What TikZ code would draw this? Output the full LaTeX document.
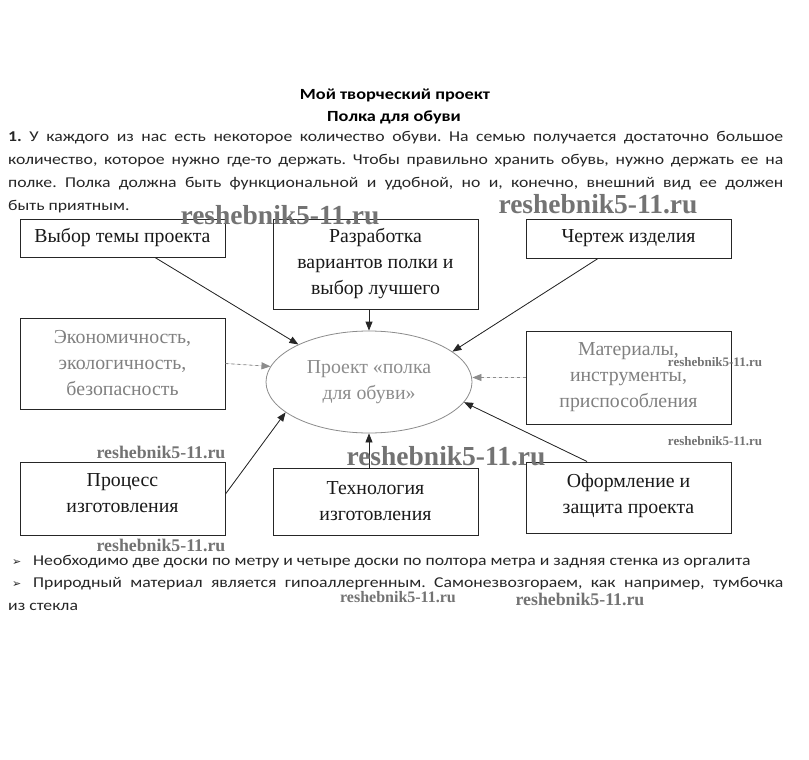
\documentclass[tikz,border=0pt]{standalone}
\usepackage{fontspec}
\setmainfont[FakeStretch=1.18]{Carlito}
\newfontfamily\serif{Liberation Serif}
\newfontfamily\dejavu{DejaVu Sans}
\usetikzlibrary{arrows.meta,shapes.geometric}
\frenchspacing
\begin{document}
\begin{tikzpicture}[x=1pt,y=-1pt,
  box/.style={draw=black!85, line width=1pt, minimum width=205pt, inner sep=0pt,
    align=center, font=\serif\fontsize{19.8}{26}\selectfont, text=black!90},
  faded/.style={text=black!50},
  arr/.style={-{Triangle[length=9pt,width=7pt]}, line width=0.8pt, draw=black!85, fill=black!85},
  farr/.style={arr, dashed, draw=black!45, fill=black!55},
  wmL/.style={font=\serif\bfseries\fontsize{27.5}{27.5}\selectfont, text=black!55, inner sep=0pt},
  wmM/.style={font=\serif\bfseries\fontsize{17.8}{17.8}\selectfont, text=black!55, inner sep=0pt},
  wmS/.style={font=\serif\bfseries\fontsize{13}{13}\selectfont, text=black!55, inner sep=0pt},
  para/.style={anchor=north west, inner sep=0pt, text width=775pt, align=justify,
    font=\fontsize{15}{23}\selectfont, text=black!85},
  bline/.style={anchor=base west, inner sep=0pt, font=\fontsize{15}{23}\selectfont, text=black!85},
  title/.style={font=\bfseries\fontsize{15.5}{15.5}\selectfont, text=black, inner sep=0pt}
]
\useasboundingbox (0,0) rectangle (809,760);
\fill[white] (0,0) rectangle (809,760);

% titles
\node[title] (t1) at (395,95) {Мой творческий проект};
\node[title] (t2) at (394,117) {Полка для обуви};

% intro paragraph
\node[para] (p1) at (8,125) {\strut\textbf{1.} У каждого из нас есть некоторое количество обуви. На семью получается достаточно большое\linebreak
количество, которое нужно где-то держать. Чтобы правильно хранить обувь, нужно держать ее на\linebreak
полке. Полка должна быть функциональной и удобной, но и, конечно, внешний вид ее должен\linebreak
быть приятным.};

% boxes
\node[box, minimum height=38pt] (b1) at (122.5,238) {Выбор темы проекта};
\node[box, minimum height=90pt] (b2) at (375.5,264) {Разработка\\вариантов полки и\\выбор лучшего};
\node[box, minimum height=39pt] (b3) at (628.5,238.5) {Чертеж изделия};
\node[box, minimum height=91pt, faded] (b4) at (122.5,363.5) {Экономичность,\\экологичность,\\безопасность};
\node[box, minimum height=93pt, faded] (b5) at (628.5,377.5) {Материалы,\\инструменты,\\приспособления};
\node[box, minimum height=73pt, text depth=10pt] (b6) at (122.5,498.5) {Процесс\\изготовления};
\node[box, minimum height=67pt] (b7) at (375.5,501.5) {Технология\\изготовления};
\node[box, minimum height=71pt, text depth=8pt] (b8) at (628.5,497.5) {Оформление и\\защита проекта};

% centre ellipse
\node[ellipse, draw=black!45, line width=0.8pt, minimum width=206pt, minimum height=102pt,
  inner sep=0pt, align=center, font=\serif\fontsize{19.8}{26}\selectfont, text=black!45]
  (c) at (369,382) {Проект «полка\\для обуви»};

% connectors
\draw[arr] ([xshift=32.5pt]b1.south) -- (c.152);
\draw[arr] (c.north |- b2.south) -- (c.north);
\draw[arr] ([xshift=-30.5pt]b3.south) -- (c.20);
\draw[farr] (b4.east) -- (c.171);
\draw[farr] (b5.west) -- (c.east |- b5.west);
\draw[arr] ([yshift=4.5pt]b6.east) -- (c.200);
\draw[arr] (c.south |- b7.north) -- (c.south);
\draw[arr] ([xshift=-41.5pt]b8.north) -- (c.348);

% bullets
\node[bline] (p2) at (8,565) {\hspace*{4pt}\makebox[21pt][l]{\dejavu\fontsize{11}{11}\selectfont ➢}Необходимо две доски по метру и четыре доски по полтора метра и задняя стенка из оргалита};
\node[para] (p3) at (8,571) {\strut\hspace*{4pt}\makebox[21pt][l]{\dejavu\fontsize{11}{11}\selectfont ➢}Природный материал является гипоаллергенным. Самонезвозгораем, как например, тумбочка\linebreak
из стекла};

% watermarks
\node[wmL] (w1) at (280,215) {reshebnik5-11.ru};
\node[wmL] (w2) at (598,204) {reshebnik5-11.ru};
\node[wmS] (w3) at (715,362) {reshebnik5-11.ru};
\node[wmS] (w4) at (715,441) {reshebnik5-11.ru};
\node[wmM] (w5) at (161,452) {reshebnik5-11.ru};
\node[wmL] (w6) at (446,456) {reshebnik5-11.ru};
\node[wmM] (w7) at (161,545) {reshebnik5-11.ru};
\node[wmS, font=\serif\bfseries\fontsize{16}{16}\selectfont] (w8) at (398,597) {reshebnik5-11.ru};
\node[wmM] (w9) at (580,599) {reshebnik5-11.ru};
\end{tikzpicture}
\end{document}
